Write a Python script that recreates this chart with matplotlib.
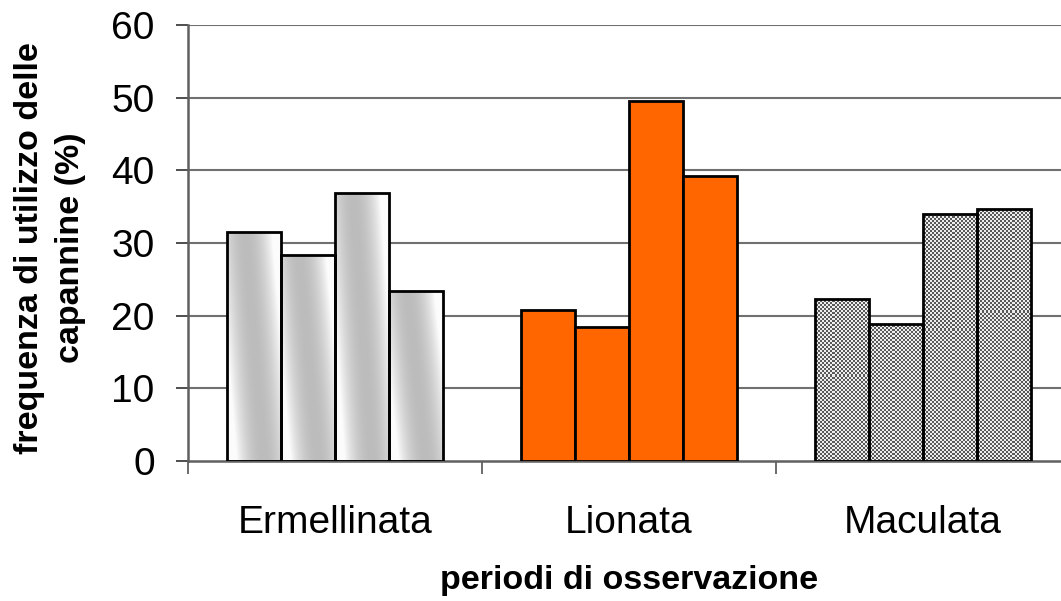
import numpy as np
import matplotlib
matplotlib.use("Agg")
import matplotlib.pyplot as plt

categories = ["Ermellinata", "Lionata", "Maculata"]
ermellinata = [31.5, 28.3, 36.9, 23.4]
lionata = [20.8, 18.4, 49.5, 39.2]
maculata = [22.3, 18.8, 34.0, 34.7]
yticks = [0, 10, 20, 30, 40, 50, 60]
ylabel = "frequenza di utilizzo delle\ncapannine (%)"
xlabel = "periodi di osservazione"

plt.rcParams['font.family'] = ['Liberation Sans', 'DejaVu Sans']

fig = plt.figure(figsize=(10.61, 6.01), dpi=100)
ax = fig.add_axes([188/1061, 140/601, 882/1061, 436/601])
ax.set_xlim(0, 3)
ax.set_ylim(0, 60)

barw = 0.184
series = [ermellinata, lionata, maculata]
bars_all = []
for gi, vals in enumerate(series):
    xs = gi + 0.5 + (np.arange(4) - 1.5) * barw
    fc = '#FF6600' if gi == 1 else 'none'
    bars = ax.bar(xs, vals, width=barw, facecolor=fc, edgecolor='black',
                  linewidth=2.0, zorder=3)
    bars_all.append(bars)

# gradient fill for Ermellinata
for b in bars_all[0]:
    x0, y0 = b.get_x(), b.get_y()
    w, h = b.get_width(), b.get_height()
    ny, nx = 200, 60
    u = np.linspace(-1, 1, nx)[None, :]
    v = np.linspace(1, -1, ny)[:, None]
    d = np.clip(np.abs(u + 0.35 * v), 0, 1)
    g = (188 + 64 * d ** 2) / 255.0
    img = np.dstack([g, g, g])
    im = ax.imshow(img, extent=[x0, x0 + w, y0, y0 + h], aspect='auto',
                   interpolation='bilinear', zorder=2)
    im.set_clip_path(b)

# dotted texture for Maculata
W, H = 882, 436
jj, ii = np.meshgrid(np.arange(W), np.arange(H))
pat = (((ii // 2) + (jj // 2)) % 2).astype(float)
tex = np.where(pat[..., None] > 0.5, np.array([0.93, 0.93, 0.93]), np.array([0.35, 0.35, 0.35]))
for b in bars_all[2]:
    im = ax.imshow(tex, extent=[0, 3, 0, 60], aspect='auto',
                   interpolation='nearest', zorder=2)
    im.set_clip_path(b)
ax.set_xlim(0, 3)
ax.set_ylim(0, 60)

# grid
for y in yticks[1:]:
    ax.axhline(y, color='#707070', linewidth=1.5, zorder=1)

for s in ['top', 'right']:
    ax.spines[s].set_visible(False)
ax.spines['left'].set_color('#606060')
ax.spines['left'].set_linewidth(1.8)
ax.spines['bottom'].set_color('#606060')
ax.spines['bottom'].set_linewidth(1.8)

ax.set_yticks(yticks)
ax.set_yticklabels([str(t) for t in yticks], fontsize=28)
ax.tick_params(axis='y', direction='out', length=9, width=1.3, color='#404040', pad=15)

ax.set_xticks([0.5, 1.5, 2.5])
ax.set_xticklabels(categories, fontsize=28)
ax.tick_params(axis='x', which='major', length=0, pad=32)
ax.set_xticks([0, 1, 2, 3], minor=True)
ax.tick_params(axis='x', which='minor', direction='out', length=9, width=1.3, color='#606060')

fig.text(50/1061, 1 - 248/601, ylabel, rotation=90, ha='center', va='center',
         fontsize=24.5, fontweight='bold', multialignment='center', linespacing=1.45)
fig.text(629/1061, 1 - 580/601, xlabel, ha='center', va='center',
         fontsize=24.5, fontweight='bold')

fig.savefig('out.png', dpi=100)
